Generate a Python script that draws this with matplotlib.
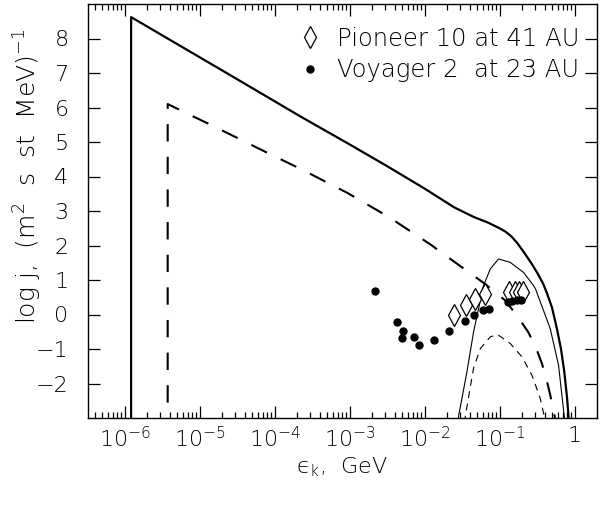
import numpy as np
import matplotlib
matplotlib.use("Agg")
import matplotlib.pyplot as plt
from matplotlib.ticker import FixedLocator, FixedFormatter, LogLocator, NullFormatter

# ---- data (x as log10 of energy in GeV) ----
# thick solid: full spectrum
solid_logE = [-5.915, -5.915, -4.5, -3.656, -3.0, -2.5, -2.0, -1.79, -1.6, -1.347,
              -1.15, -1.0, -0.92, -0.84, -0.76, -0.68, -0.58, -0.50, -0.42, -0.368,
              -0.30, -0.235, -0.18, -0.137, -0.10, -0.08, -0.07]
solid_val = [-3.5, 8.62, 6.82, 5.74, 4.93, 4.30, 3.65, 3.36, 3.10, 2.83,
             2.66, 2.50, 2.40, 2.26, 2.06, 1.82, 1.50, 1.22, 0.90, 0.62,
             0.20, -0.41, -1.0, -1.65, -2.4, -2.95, -3.5]

# long dashed spectrum
dash_logE = [-5.427, -5.427, -4.827, -4.035, -3.635, -3.035, -2.48, -1.915, -1.745,
             -1.19, -0.92, -0.74, -0.62, -0.52, -0.435, -0.377, -0.324, -0.26, -0.24]
dash_val = [-3.5, 6.10, 5.47, 4.62, 4.20, 3.53, 2.83, 2.02, 1.75,
            0.88, 0.40, -0.12, -0.50, -0.93, -1.42, -1.85, -2.33, -3.0, -3.5]

# thin solid hump
thin_logE = [-1.56, -1.547, -1.435, -1.347, -1.213, -1.124, -1.013, -0.857, -0.68,
             -0.547, -0.52, -0.324, -0.213, -0.137, -0.12]
thin_val = [-3.5, -2.95, -1.66, -0.51, 0.84, 1.32, 1.61, 1.51, 1.22,
            0.84, 0.74, -0.41, -1.47, -2.95, -3.5]

# thin short-dashed hump
sdash_logE = [-1.47, -1.457, -1.347, -1.257, -1.124, -1.027, -0.857, -0.70,
              -0.568, -0.457, -0.404, -0.39]
sdash_val = [-3.5, -2.95, -1.56, -0.99, -0.65, -0.58, -0.84, -1.23,
             -1.76, -2.43, -2.95, -3.5]

# Voyager 2 at 23 AU
voy_logE = [-2.657, -2.368, -2.288, -2.301, -2.147, -2.08, -1.88, -1.67, -1.461,
            -1.337, -1.227, -1.137, -0.89, -0.83, -0.77, -0.72]
voy_val = [0.69, -0.22, -0.48, -0.68, -0.65, -0.87, -0.74, -0.47, -0.20,
           -0.02, 0.14, 0.16, 0.35, 0.38, 0.41, 0.42]

# Pioneer 10 at 41 AU
pio_logE = [-1.613, -1.448, -1.324, -1.2, -0.88, -0.80, -0.747, -0.693]
pio_val = [-0.01, 0.28, 0.45, 0.60, 0.65, 0.66, 0.65, 0.66]

xtick_vals = [1e-6, 1e-5, 1e-4, 1e-3, 1e-2, 1e-1, 1]
xtick_labels = [r"$\mathdefault{10^{-6}}$", r"$\mathdefault{10^{-5}}$",
                r"$\mathdefault{10^{-4}}$", r"$\mathdefault{10^{-3}}$",
                r"$\mathdefault{10^{-2}}$", r"$\mathdefault{10^{-1}}$", "1"]
ytick_vals = [-2, -1, 0, 1, 2, 3, 4, 5, 6, 7, 8]

plt.rcParams['font.family'] = ['DejaVu Sans']
plt.rcParams['font.size'] = 16
plt.rcParams['font.weight'] = 'light'
plt.rcParams['axes.labelweight'] = 'light'
plt.rcParams['mathtext.fontset'] = 'dejavusans'
plt.rcParams['lines.scale_dashes'] = False

fig = plt.figure(figsize=(6.08, 5.07), dpi=100)
ax = fig.add_axes([88 / 608, 89 / 507, 509 / 608, 414 / 507])

ax.plot(np.power(10.0, solid_logE), solid_val, color='black', lw=1.6)
ax.plot(np.power(10.0, dash_logE), dash_val, color='black', lw=1.5, dashes=(12.5, 11))
ax.plot(np.power(10.0, thin_logE), thin_val, color='black', lw=0.8)
ax.plot(np.power(10.0, sdash_logE), sdash_val, color='black', lw=0.8, dashes=(5, 4))

ax.plot(np.power(10.0, pio_logE), pio_val, ls='none', marker='d', ms=11,
        mfc='white', mec='black', mew=0.9, label='Pioneer 10 at 41 AU')
ax.plot(np.power(10.0, voy_logE), voy_val, ls='none', marker='o', ms=5,
        mfc='black', mec='black', label='Voyager 2  at 23 AU')

ax.set_xscale('log')
ax.set_xlim(10 ** -6.49, 10 ** 0.30)
ax.set_ylim(-3, 9)

ax.xaxis.set_major_locator(FixedLocator(xtick_vals))
ax.xaxis.set_major_formatter(FixedFormatter(xtick_labels))
ax.xaxis.set_minor_locator(LogLocator(base=10, subs=np.arange(2, 10), numticks=20))
ax.xaxis.set_minor_formatter(NullFormatter())
ax.yaxis.set_major_locator(FixedLocator(ytick_vals))
ax.yaxis.set_minor_locator(FixedLocator([]))

ax.tick_params(which='both', direction='in', top=True, right=True, width=0.9)
ax.tick_params(which='major', length=8.5)
ax.tick_params(which='minor', length=4.3)
ax.tick_params(axis='x', pad=6)
ax.tick_params(axis='y', pad=14)
for sp in ax.spines.values():
    sp.set_linewidth(1.0)

ax.set_xlabel("\u03f5$_{\\mathdefault{k}}$,  GeV")
ax.xaxis.set_label_coords(0.5, -0.09)
ax.set_ylabel(r"log j,  (m$^2$  s  st  MeV)$^{-1}$", fontsize=18)
ax.yaxis.set_label_coords(-0.086, 0.585)

ax.legend(loc='upper right', bbox_to_anchor=(0.985, 0.968), frameon=False,
          handlelength=0.8, handletextpad=0.7, labelspacing=0.3,
          borderaxespad=0.0, fontsize=17.5)

fig.savefig('out.png', dpi=100)
